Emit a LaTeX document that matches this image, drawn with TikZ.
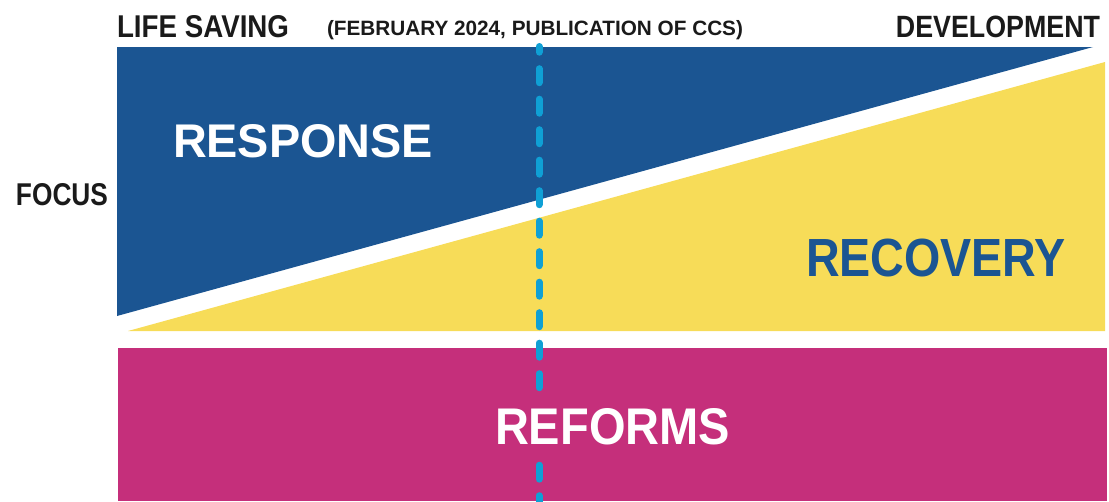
\documentclass[tikz,border=0pt]{standalone}
\usepackage{fontspec}
\setmainfont{Liberation Sans}
\definecolor{resblue}{RGB}{27,85,146}
\definecolor{recyellow}{RGB}{247,220,88}
\definecolor{refmagenta}{RGB}{197,47,123}
\definecolor{dashblue}{RGB}{15,160,213}
\definecolor{darktext}{RGB}{26,26,26}
\tikzset{
  lbl/.style={inner sep=0pt, outer sep=0pt, text=darktext, font=\bfseries},
  big/.style={inner sep=0pt, outer sep=0pt, font=\bfseries},
}
\begin{document}
\begin{tikzpicture}[x=1pt,y=-1pt]
\useasboundingbox (0,0) rectangle (1109,501);
% shapes
\fill[resblue] (117,47) -- (1093,47) -- (117,316) -- cycle;
\fill[recyellow] (128,331) -- (1105,62) -- (1105,331) -- cycle;
\fill[refmagenta] (118,348) rectangle (1107,501);
% dashed timeline
\coordinate (dtop) at (539,46.5);
\coordinate (dbot) at (539,505);
\draw[dashblue, line width=7pt, line cap=round, dash pattern=on 14pt off 16.5pt, dash phase=8.3pt] (dtop) -- (dbot);
% labels
\node[lbl, anchor=base west] (life) at (117,37) {\resizebox{172pt}{22pt}{LIFE SAVING}};
\node[lbl, anchor=base east] (dev) at (1100,37) {\resizebox{204pt}{21.5pt}{DEVELOPMENT}};
\node[lbl, anchor=base west] (feb) at (327,35) {\resizebox{416pt}{!}{\fontsize{23pt}{23pt}\selectfont (FEBRUARY 2024, PUBLICATION OF CCS)}};
\node[lbl, anchor=base west] (focus) at (16,205) {\resizebox{92pt}{22pt}{FOCUS}};
\node[big, text=white, anchor=base west] (response) at (173,157) {\resizebox{260pt}{33pt}{RESPONSE}};
\node[big, text=resblue, anchor=base west] (recovery) at (806,276) {\resizebox{260pt}{37.5pt}{RECOVERY}};
\node[big, text=white, anchor=base west, fill=refmagenta, inner ysep=12pt, inner xsep=4pt] (reforms) at (491,444) {\resizebox{235pt}{36pt}{REFORMS}};
\end{tikzpicture}
\end{document}
